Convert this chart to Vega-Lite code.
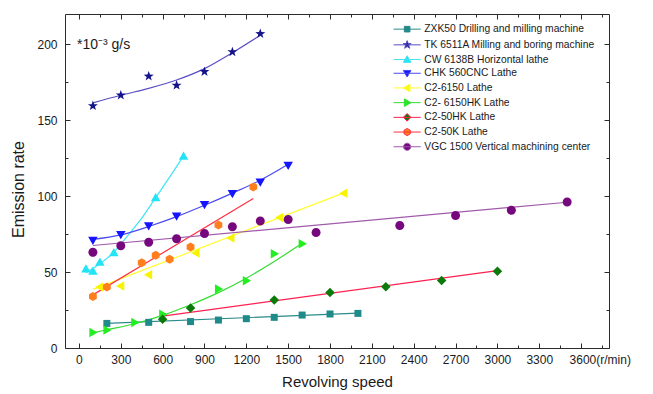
{
  "$schema": "https://vega.github.io/schema/vega-lite/v6.json",
  "width": 544,
  "height": 334,
  "autosize": {"type": "none"},
  "padding": {"left": 65, "top": 14, "right": 44, "bottom": 46},
  "background": "white",
  "config": {
    "view": {"stroke": "#2b2b2b", "strokeWidth": 1},
    "axis": {
      "domain": false, "grid": false,
      "labelFont": "Liberation Sans", "labelFontSize": 12, "labelColor": "#1a1a1a",
      "tickColor": "#2b2b2b", "tickWidth": 1,
      "titleFont": "Liberation Sans", "titleFontWeight": "normal", "titleColor": "#1a1a1a",
      "labelOverlap": false, "labelFlush": false, "labelBound": false
    },
    "legend": {
      "orient": "none", "legendX": 337, "legendY": 10, "padding": 0,
      "labelFont": "Liberation Sans", "labelFontSize": 10.3, "labelColor": "#1a1a1a", "labelLimit": 300,
      "symbolSize": 64, "symbolStrokeWidth": 1, "rowPadding": 2.7, "labelOffset": 12
    }
  },
  "datasets": {
    "points": [
      {"machine": "ZXK50 Drilling and  milling machine", "speed": 200, "rate": 16.2},
      {"machine": "ZXK50 Drilling and  milling machine", "speed": 500, "rate": 16.9},
      {"machine": "ZXK50 Drilling and  milling machine", "speed": 800, "rate": 17.4},
      {"machine": "ZXK50 Drilling and  milling machine", "speed": 1000, "rate": 18.4},
      {"machine": "ZXK50 Drilling and  milling machine", "speed": 1200, "rate": 19.3},
      {"machine": "ZXK50 Drilling and  milling machine", "speed": 1400, "rate": 20.2},
      {"machine": "ZXK50 Drilling and  milling machine", "speed": 1600, "rate": 21.7},
      {"machine": "ZXK50 Drilling and  milling machine", "speed": 1800, "rate": 22.4},
      {"machine": "ZXK50 Drilling and  milling machine", "speed": 2000, "rate": 22.8},
      {"machine": "TK 6511A Milling and boring machine", "speed": 100, "rate": 159.5},
      {"machine": "TK 6511A Milling and boring machine", "speed": 300, "rate": 166.5},
      {"machine": "TK 6511A Milling and boring machine", "speed": 500, "rate": 179},
      {"machine": "TK 6511A Milling and boring machine", "speed": 700, "rate": 173},
      {"machine": "TK 6511A Milling and boring machine", "speed": 900, "rate": 182},
      {"machine": "TK 6511A Milling and boring machine", "speed": 1100, "rate": 195},
      {"machine": "TK 6511A Milling and boring machine", "speed": 1300, "rate": 207},
      {"machine": "CW 6138B Horizontal lathe", "speed": 50, "rate": 52},
      {"machine": "CW 6138B Horizontal lathe", "speed": 100, "rate": 50.5},
      {"machine": "CW 6138B Horizontal lathe", "speed": 150, "rate": 56.5},
      {"machine": "CW 6138B Horizontal lathe", "speed": 250, "rate": 62.8},
      {"machine": "CW 6138B Horizontal lathe", "speed": 550, "rate": 99},
      {"machine": "CW 6138B Horizontal lathe", "speed": 750, "rate": 126.3},
      {"machine": "CHK 560CNC Lathe", "speed": 100, "rate": 71},
      {"machine": "CHK 560CNC Lathe", "speed": 300, "rate": 74.8},
      {"machine": "CHK 560CNC Lathe", "speed": 500, "rate": 80.5},
      {"machine": "CHK 560CNC Lathe", "speed": 700, "rate": 87},
      {"machine": "CHK 560CNC Lathe", "speed": 900, "rate": 94.5},
      {"machine": "CHK 560CNC Lathe", "speed": 1100, "rate": 101.8},
      {"machine": "CHK 560CNC Lathe", "speed": 1300, "rate": 109.4},
      {"machine": "CHK 560CNC Lathe", "speed": 1500, "rate": 120.4},
      {"machine": "C2-6150 Lathe", "speed": 150, "rate": 40.2},
      {"machine": "C2-6150 Lathe", "speed": 300, "rate": 40.8},
      {"machine": "C2-6150 Lathe", "speed": 500, "rate": 48.2},
      {"machine": "C2-6150 Lathe", "speed": 840, "rate": 62.5},
      {"machine": "C2-6150 Lathe", "speed": 1090, "rate": 72.5},
      {"machine": "C2-6150 Lathe", "speed": 1440, "rate": 86},
      {"machine": "C2-6150 Lathe", "speed": 1900, "rate": 102},
      {"machine": "C2- 6150HK Lathe", "speed": 100, "rate": 10.2},
      {"machine": "C2- 6150HK Lathe", "speed": 200, "rate": 11.8},
      {"machine": "C2- 6150HK Lathe", "speed": 400, "rate": 16.8},
      {"machine": "C2- 6150HK Lathe", "speed": 600, "rate": 22.3},
      {"machine": "C2- 6150HK Lathe", "speed": 1000, "rate": 38.8},
      {"machine": "C2- 6150HK Lathe", "speed": 1200, "rate": 44.3},
      {"machine": "C2- 6150HK Lathe", "speed": 1400, "rate": 62},
      {"machine": "C2- 6150HK Lathe", "speed": 1600, "rate": 68.7},
      {"machine": "C2-50HK Lathe", "speed": 600, "rate": 19},
      {"machine": "C2-50HK Lathe", "speed": 800, "rate": 26.3},
      {"machine": "C2-50HK Lathe", "speed": 1400, "rate": 31.6},
      {"machine": "C2-50HK Lathe", "speed": 1800, "rate": 36.6},
      {"machine": "C2-50HK Lathe", "speed": 2200, "rate": 40.4},
      {"machine": "C2-50HK Lathe", "speed": 2600, "rate": 44.5},
      {"machine": "C2-50HK Lathe", "speed": 3000, "rate": 50.6},
      {"machine": "C2-50K Lathe", "speed": 100, "rate": 34},
      {"machine": "C2-50K Lathe", "speed": 200, "rate": 40.1},
      {"machine": "C2-50K Lathe", "speed": 450, "rate": 56.1},
      {"machine": "C2-50K Lathe", "speed": 550, "rate": 61.1},
      {"machine": "C2-50K Lathe", "speed": 650, "rate": 58.5},
      {"machine": "C2-50K Lathe", "speed": 800, "rate": 66.5},
      {"machine": "C2-50K Lathe", "speed": 1000, "rate": 81.1},
      {"machine": "C2-50K Lathe", "speed": 1250, "rate": 106.1},
      {"machine": "VGC 1500 Vertical machining center", "speed": 100, "rate": 63},
      {"machine": "VGC 1500 Vertical machining center", "speed": 300, "rate": 67.3},
      {"machine": "VGC 1500 Vertical machining center", "speed": 500, "rate": 69.7},
      {"machine": "VGC 1500 Vertical machining center", "speed": 700, "rate": 71.9},
      {"machine": "VGC 1500 Vertical machining center", "speed": 900, "rate": 75.4},
      {"machine": "VGC 1500 Vertical machining center", "speed": 1100, "rate": 79.8},
      {"machine": "VGC 1500 Vertical machining center", "speed": 1300, "rate": 83.6},
      {"machine": "VGC 1500 Vertical machining center", "speed": 1500, "rate": 84.6},
      {"machine": "VGC 1500 Vertical machining center", "speed": 1700, "rate": 76},
      {"machine": "VGC 1500 Vertical machining center", "speed": 2300, "rate": 80.7},
      {"machine": "VGC 1500 Vertical machining center", "speed": 2700, "rate": 87.3},
      {"machine": "VGC 1500 Vertical machining center", "speed": 3100, "rate": 90.8},
      {"machine": "VGC 1500 Vertical machining center", "speed": 3500, "rate": 96.1}
    ],
    "fits": [
      {"machine": "ZXK50 Drilling and  milling machine", "speed": 200, "rate": 16.2},
      {"machine": "ZXK50 Drilling and  milling machine", "speed": 2000, "rate": 23},
      {"machine": "TK 6511A Milling and boring machine", "speed": 100, "rate": 161.5},
      {"machine": "TK 6511A Milling and boring machine", "speed": 300, "rate": 166.5},
      {"machine": "TK 6511A Milling and boring machine", "speed": 500, "rate": 171},
      {"machine": "TK 6511A Milling and boring machine", "speed": 700, "rate": 176.5},
      {"machine": "TK 6511A Milling and boring machine", "speed": 900, "rate": 184},
      {"machine": "TK 6511A Milling and boring machine", "speed": 1100, "rate": 194.5},
      {"machine": "TK 6511A Milling and boring machine", "speed": 1300, "rate": 206},
      {"machine": "CW 6138B Horizontal lathe", "speed": 50, "rate": 49.5},
      {"machine": "CW 6138B Horizontal lathe", "speed": 150, "rate": 55.5},
      {"machine": "CW 6138B Horizontal lathe", "speed": 250, "rate": 63},
      {"machine": "CW 6138B Horizontal lathe", "speed": 350, "rate": 74},
      {"machine": "CW 6138B Horizontal lathe", "speed": 450, "rate": 85.5},
      {"machine": "CW 6138B Horizontal lathe", "speed": 550, "rate": 99},
      {"machine": "CW 6138B Horizontal lathe", "speed": 650, "rate": 112.5},
      {"machine": "CW 6138B Horizontal lathe", "speed": 750, "rate": 126.5},
      {"machine": "CHK 560CNC Lathe", "speed": 100, "rate": 71.5},
      {"machine": "CHK 560CNC Lathe", "speed": 300, "rate": 74.5},
      {"machine": "CHK 560CNC Lathe", "speed": 500, "rate": 80},
      {"machine": "CHK 560CNC Lathe", "speed": 700, "rate": 86.5},
      {"machine": "CHK 560CNC Lathe", "speed": 900, "rate": 94},
      {"machine": "CHK 560CNC Lathe", "speed": 1100, "rate": 102},
      {"machine": "CHK 560CNC Lathe", "speed": 1300, "rate": 110.5},
      {"machine": "CHK 560CNC Lathe", "speed": 1500, "rate": 121},
      {"machine": "C2-6150 Lathe", "speed": 100, "rate": 38.6},
      {"machine": "C2-6150 Lathe", "speed": 1900, "rate": 102.2},
      {"machine": "C2- 6150HK Lathe", "speed": 100, "rate": 10},
      {"machine": "C2- 6150HK Lathe", "speed": 200, "rate": 12},
      {"machine": "C2- 6150HK Lathe", "speed": 400, "rate": 16},
      {"machine": "C2- 6150HK Lathe", "speed": 600, "rate": 21.5},
      {"machine": "C2- 6150HK Lathe", "speed": 800, "rate": 28.5},
      {"machine": "C2- 6150HK Lathe", "speed": 1000, "rate": 36.5},
      {"machine": "C2- 6150HK Lathe", "speed": 1200, "rate": 46},
      {"machine": "C2- 6150HK Lathe", "speed": 1400, "rate": 57},
      {"machine": "C2- 6150HK Lathe", "speed": 1600, "rate": 69},
      {"machine": "C2-50HK Lathe", "speed": 600, "rate": 21},
      {"machine": "C2-50HK Lathe", "speed": 3000, "rate": 51},
      {"machine": "C2-50K Lathe", "speed": 100, "rate": 35},
      {"machine": "C2-50K Lathe", "speed": 1250, "rate": 98.5},
      {"machine": "VGC 1500 Vertical machining center", "speed": 100, "rate": 67.5},
      {"machine": "VGC 1500 Vertical machining center", "speed": 3500, "rate": 96}
    ]
  },
  "layer": [
    {
      "data": {"name": "fits"},
      "mark": {"type": "line", "interpolate": "monotone", "strokeWidth": 1.2},
      "encoding": {
        "x": {"field": "speed", "type": "quantitative", "scale": {"domain": [-100, 3800], "nice": false, "zero": false},
          "axis": {"orient": "bottom", "values": [0, 300, 600, 900, 1200, 1500, 1800, 2100, 2400, 2700, 3000, 3300, 3600],
            "format": "d", "tickSize": -5, "labelPadding": 11, "title": "Revolving speed", "titleFontSize": 15, "titlePadding": 9,
            "labelExpr": "datum.value == 3600 ? '3600(r/min)' : datum.label",
            "labelAlign": {"condition": {"test": "datum.value == 3600", "value": "left"}, "value": "center"},
            "labelOffset": {"condition": {"test": "datum.value == 3600", "value": -12}, "value": 0}}},
        "y": {"field": "rate", "type": "quantitative", "scale": {"domain": [0, 220], "nice": false, "zero": false},
          "axis": {"orient": "left", "values": [0, 50, 100, 150, 200], "format": "d", "tickSize": -5, "labelPadding": 13,
            "title": "Emission rate", "titleFontSize": 16, "titlePadding": 10, "titleY": 175}},
        "stroke": {"field": "machine", "type": "nominal",
          "scale": {"domain": ["ZXK50 Drilling and  milling machine", "TK 6511A Milling and boring machine", "CW 6138B Horizontal lathe", "CHK 560CNC Lathe", "C2-6150 Lathe", "C2- 6150HK Lathe", "C2-50HK Lathe", "C2-50K Lathe", "VGC 1500 Vertical machining center", "other"],
            "range": ["#2a8a8a", "#5b4fc4", "#3ee6f2", "#4a4af0", "#ffff2a", "#33dd33", "#ff2050", "#ff3040", "#a05aaa", "#999999"]},
          "legend": {"title": null,
            "values": ["ZXK50 Drilling and  milling machine", "TK 6511A Milling and boring machine", "CW 6138B Horizontal lathe", "CHK 560CNC Lathe", "C2-6150 Lathe", "C2- 6150HK Lathe", "C2-50HK Lathe", "C2-50K Lathe", "VGC 1500 Vertical machining center"],
            "encode": {"symbols": {"update": {
              "shape": {"signal": "'M-3.4,0H3.4' + scale('shape', datum.value)"},
              "fill": {"signal": "scale('fill', datum.value)"},
              "strokeWidth": {"value": 1},
              "opacity": {"value": 1}
            }}}}}
      }
    },
    {
      "data": {"name": "points"},
      "mark": {"type": "point", "filled": true, "opacity": 1, "size": 100},
      "encoding": {
        "x": {"field": "speed", "type": "quantitative", "scale": {"domain": [-100, 3800], "nice": false, "zero": false},
          "axis": {"orient": "bottom", "values": [150, 450, 750, 1050, 1350, 1650, 1950, 2250, 2550, 2850, 3150, 3450, 3750],
            "tickSize": -3, "labels": false, "title": null}},
        "y": {"field": "rate", "type": "quantitative", "scale": {"domain": [0, 220], "nice": false, "zero": false},
          "axis": {"orient": "left", "values": [25, 75, 125, 175], "tickSize": -3, "labels": false, "title": null}},
        "fill": {"field": "machine", "type": "nominal", "legend": null,
          "scale": {"domain": ["ZXK50 Drilling and  milling machine", "TK 6511A Milling and boring machine", "CW 6138B Horizontal lathe", "CHK 560CNC Lathe", "C2-6150 Lathe", "C2- 6150HK Lathe", "C2-50HK Lathe", "C2-50K Lathe", "VGC 1500 Vertical machining center"],
            "range": ["#1f8a8a", "#14148a", "#22e4f4", "#1414ff", "#f8f400", "#22ee22", "#0a7a0a", "#ff7f1e", "#76087e"]}},
        "shape": {"field": "machine", "type": "nominal", "legend": null,
          "scale": {"domain": ["ZXK50 Drilling and  milling machine", "TK 6511A Milling and boring machine", "CW 6138B Horizontal lathe", "CHK 560CNC Lathe", "C2-6150 Lathe", "C2- 6150HK Lathe", "C2-50HK Lathe", "C2-50K Lathe", "VGC 1500 Vertical machining center"],
            "range": [
              "M-0.7,-0.7H0.7V0.7H-0.7Z",
              "M0,-1.05L0.25,-0.34L1,-0.32L0.4,0.13L0.62,0.85L0,0.42L-0.62,0.85L-0.4,0.13L-1,-0.32L-0.25,-0.34Z",
              "M0,-0.95L0.95,0.7L-0.95,0.7Z",
              "M0,0.95L0.95,-0.7L-0.95,-0.7Z",
              "M-0.95,0L0.7,-0.95L0.7,0.95Z",
              "M0.95,0L-0.7,-0.95L-0.7,0.95Z",
              "M0,-0.95L0.95,0L0,0.95L-0.95,0Z",
              "M0,-0.9L0.78,-0.45L0.78,0.45L0,0.9L-0.78,0.45L-0.78,-0.45Z",
              "M0.9,0A0.9,0.9 0 1,1 -0.9,0A0.9,0.9 0 1,1 0.9,0Z"
            ]}}
      }
    },
    {
      "data": {"values": [{"label": "*10⁻³ g/s"}]},
      "mark": {"type": "text", "align": "left", "baseline": "alphabetic", "font": "Liberation Sans", "fontSize": 14, "color": "#1a1a1a"},
      "encoding": {
        "text": {"field": "label"},
        "x": {"datum": -14, "type": "quantitative", "scale": {"domain": [-100, 3800], "nice": false, "zero": false},
          "axis": {"orient": "top", "values": [0, 300, 600, 900, 1200, 1500, 1800, 2100, 2400, 2700, 3000, 3300, 3600],
            "tickSize": -5, "labels": false, "title": null}},
        "y": {"datum": 197, "type": "quantitative", "scale": {"domain": [0, 220], "nice": false, "zero": false},
          "axis": {"orient": "right", "values": [0, 50, 100, 150, 200], "tickSize": -5, "labels": false, "title": null}}
      }
    },
    {
      "data": {"values": [{"label": ""}]},
      "mark": {"type": "text", "text": ""},
      "encoding": {
        "x": {"datum": 0, "type": "quantitative", "scale": {"domain": [-100, 3800], "nice": false, "zero": false},
          "axis": {"orient": "top", "values": [150, 450, 750, 1050, 1350, 1650, 1950, 2250, 2550, 2850, 3150, 3450, 3750],
            "tickSize": -3, "labels": false, "title": null}},
        "y": {"datum": 0, "type": "quantitative", "scale": {"domain": [0, 220], "nice": false, "zero": false},
          "axis": {"orient": "right", "values": [25, 75, 125, 175], "tickSize": -3, "labels": false, "title": null}}
      }
    }
  ],
  "resolve": {"axis": {"x": "independent", "y": "independent"}}
}
